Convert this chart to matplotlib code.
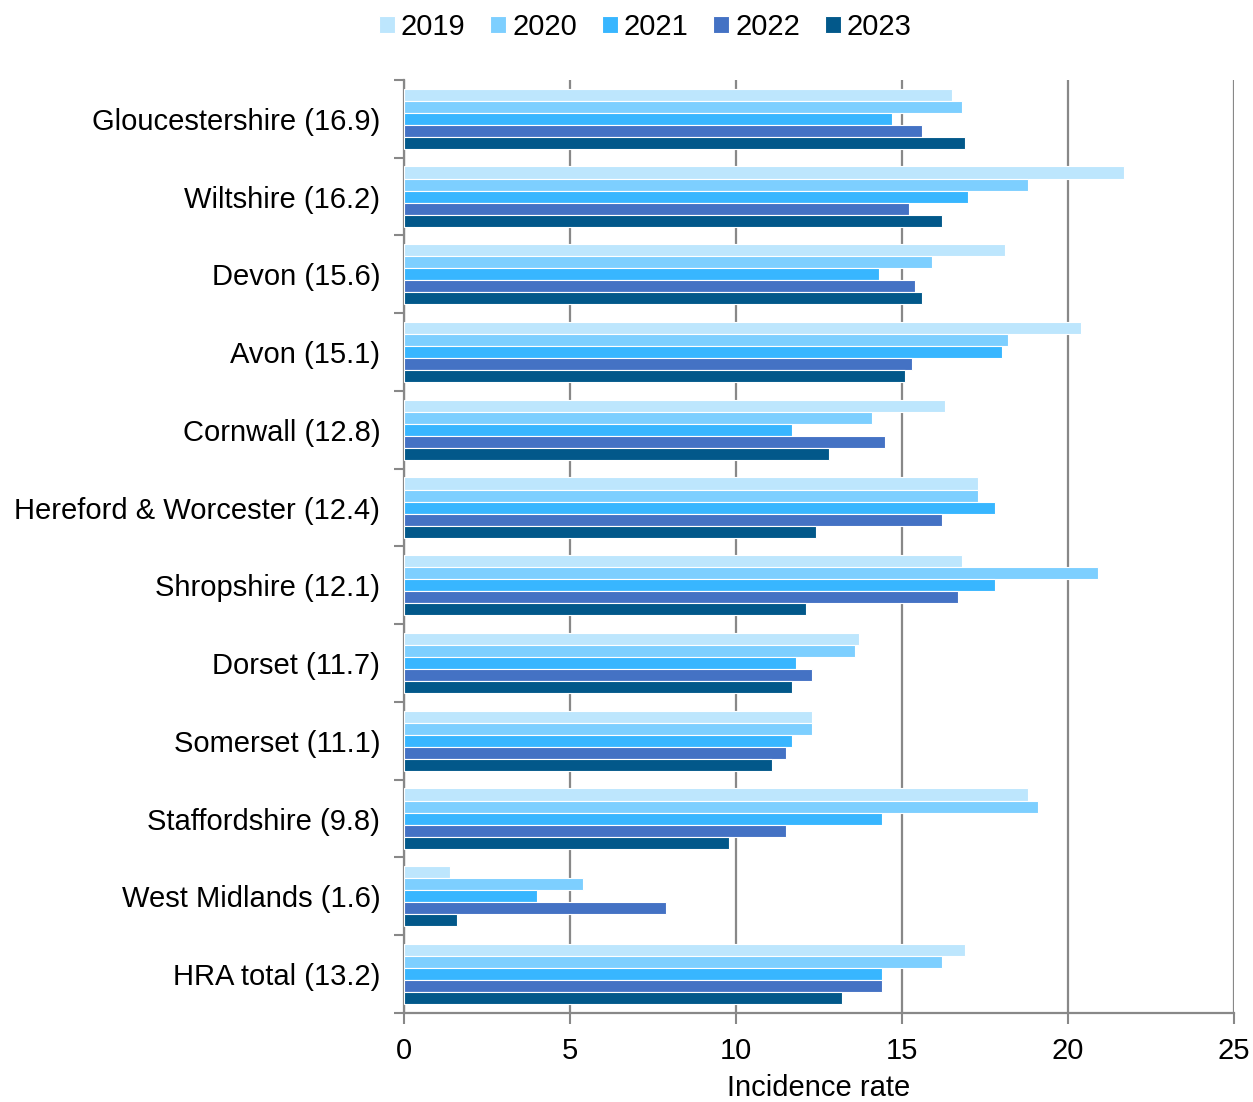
import matplotlib
matplotlib.use("Agg")
import matplotlib.pyplot as plt
import numpy as np

plt.rcParams['font.family'] = ['Liberation Sans', 'DejaVu Sans']

categories = [
    "Gloucestershire (16.9)", "Wiltshire (16.2)", "Devon (15.6)", "Avon (15.1)",
    "Cornwall (12.8)", "Hereford & Worcester (12.4)", "Shropshire (12.1)",
    "Dorset (11.7)", "Somerset (11.1)", "Staffordshire (9.8)",
    "West Midlands (1.6)", "HRA total (13.2)",
]
years = ["2019", "2020", "2021", "2022", "2023"]
rate_2019 = [16.5, 21.7, 18.1, 20.4, 16.3, 17.3, 16.8, 13.7, 12.3, 18.8, 1.4, 16.9]
rate_2020 = [16.8, 18.8, 15.9, 18.2, 14.1, 17.3, 20.9, 13.6, 12.3, 19.1, 5.4, 16.2]
rate_2021 = [14.7, 17.0, 14.3, 18.0, 11.7, 17.8, 17.8, 11.8, 11.7, 14.4, 4.0, 14.4]
rate_2022 = [15.6, 15.2, 15.4, 15.3, 14.5, 16.2, 16.7, 12.3, 11.5, 11.5, 7.9, 14.4]
rate_2023 = [16.9, 16.2, 15.6, 15.1, 12.8, 12.4, 12.1, 11.7, 11.1, 9.8, 1.6, 13.2]
series = [rate_2019, rate_2020, rate_2021, rate_2022, rate_2023]
colors = ["#bde6fd", "#7dcfff", "#38b6ff", "#4472c4", "#02588a"]

FS = 21

fig = plt.figure(figsize=(12.53, 11.02), dpi=100)
ax = fig.add_axes([0.3224, 0.0808, 0.9848 - 0.3224, 0.9274 - 0.0808])

n = len(categories)
centers = np.arange(n)
bar_h = 0.155
for i, (vals, col, yr) in enumerate(zip(series, colors, years)):
    offs = (i - 2) * bar_h
    ax.barh(centers + offs, vals, height=bar_h, color=col, edgecolor="white",
            linewidth=0.8, label=yr, zorder=3)

ax.set_ylim(n - 0.5, -0.5)
ax.set_xlim(0, 25)
ax.set_xticks([0, 5, 10, 15, 20, 25])
ax.set_yticks(centers)
ax.set_yticklabels(categories, fontsize=FS)
ax.set_yticks(np.arange(n + 1) - 0.5, minor=True)
ax.tick_params(axis='y', which='major', length=0, pad=17)
ax.tick_params(axis='y', which='minor', length=7, width=1.5, color="#888888", direction='out')
ax.tick_params(axis='x', which='major', length=8, width=1.5, color="#888888",
               labelsize=FS, pad=9)

ax.grid(axis='x', color="#888888", linewidth=1.6, zorder=0)
ax.set_axisbelow(True)
for side in ("top", "right"):
    ax.spines[side].set_visible(False)
for side in ("left", "bottom"):
    ax.spines[side].set_color("#888888")
    ax.spines[side].set_linewidth(1.6)

ax.set_xlabel("Incidence rate", fontsize=FS, labelpad=7)

ax.legend(loc="center", bbox_to_anchor=(0.515, 1 - 27 / 1102), bbox_transform=fig.transFigure,
          ncol=5, frameon=False, fontsize=FS, handlelength=0.55, handleheight=0.55,
          handletextpad=0.2, columnspacing=0.85, borderaxespad=0.0, borderpad=0.0)

fig.savefig("out.png", dpi=100)
